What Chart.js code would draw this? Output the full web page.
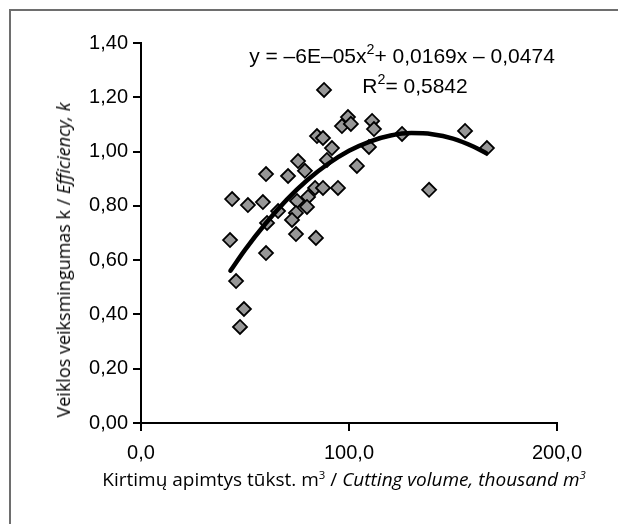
<!DOCTYPE html>
<html>
<head>
<meta charset="utf-8">
<script src="https://cdn.jsdelivr.net/npm/chart.js@4/dist/chart.umd.min.js"></script>
<style>
  html, body { margin:0; padding:0; background:#fff; }
  #wrap { position:relative; width:618px; height:524px; overflow:hidden; background:#fff; }
  #frame { position:absolute; left:9px; top:9px; width:800px; height:800px;
           border-left:2px solid #6e6e6e; border-top:2px solid #6e6e6e; }
  canvas { position:absolute; left:0; top:0; }
  .t { position:absolute; white-space:nowrap; color:#000; line-height:1; }
  #eq, #r2 { font-family:"Liberation Sans", Arial, sans-serif; font-size:21px; transform:translateX(-50%); }
  #eq { left:402px; top:45px; }
  #r2 { left:415px; top:75px; }
  #eq sup, #r2 sup { font-size:0.68em; vertical-align:0.6em; line-height:0; }
  #xt, #yt { font-family:"Open Sans", "Noto Sans", sans-serif; }
  #xt { font-size:19px; left:344px; top:470px; transform:translateX(-50%); }
  #yt { font-size:18px; left:63px; top:260px; transform:translate(-50%,-50%) rotate(-90deg); }
  #xt sup, #yt sup { font-size:0.6em; vertical-align:0.6em; line-height:0; }
</style>
</head>
<body>
<div id="wrap">
  <div id="frame"></div>
  <canvas id="c" width="618" height="524"></canvas>
  <div class="t" id="eq">y = –6E–05x<sup>2</sup>+ 0,0169x – 0,0474</div>
  <div class="t" id="r2">R<sup>2</sup>= 0,5842</div>
  <div class="t" id="xt">Kirtimų apimtys tūkst. m<sup>3</sup> / <i>Cutting volume, thousand m<sup>3</sup></i></div>
  <div class="t" id="yt">Veiklos veiksmingumas k / <i>Efficiency, k</i></div>
</div>
<script>
// Observed data points (cutting volume, efficiency)
const xVals = [43.8, 51.4, 58.6, 60.1, 70.7, 75.5, 78.8, 84.6, 87.5, 88.0,
               91.8, 89.4, 96.6, 99.5, 100.9, 103.8, 109.6, 111.1, 112.0, 125.5,
               155.8, 166.3, 138.5, 83.7, 87.5, 94.7, 75.0, 80.3, 79.8, 65.9,
               74.5, 72.6, 60.6, 74.5, 84.1, 42.8, 60.1, 45.7, 49.5, 47.6];
const yVals = [0.825, 0.803, 0.814, 0.917, 0.910, 0.965, 0.929, 1.057, 1.050, 1.227,
               1.013, 0.969, 1.094, 1.127, 1.102, 0.947, 1.017, 1.113, 1.083, 1.065,
               1.076, 1.013, 0.859, 0.866, 0.866, 0.866, 0.818, 0.833, 0.796, 0.781,
               0.774, 0.748, 0.737, 0.696, 0.682, 0.674, 0.626, 0.523, 0.420, 0.354];
// Trend curve
const trendX = [43, 50, 60, 70, 80, 90, 100, 110, 120, 130, 140, 150, 160, 166];
const trendY = [0.561, 0.638, 0.736, 0.822, 0.895, 0.955, 1.003, 1.037, 1.059, 1.068, 1.064, 1.048, 1.018, 0.994];
// Axis ticks
const xTickValues = [0, 100, 200];
const xTickLabels = ['0,0', '100,0', '200,0'];
const yTickLabels = ['0,00', '0,20', '0,40', '0,60', '0,80', '1,00', '1,20', '1,40'];

const points = xVals.map((x, i) => ({x: x, y: yVals[i]}));
const trend = trendX.map((x, i) => ({x: x, y: trendY[i]}));

const tickFont = {family: '"Liberation Sans", Arial, sans-serif', size: 20};

new Chart(document.getElementById('c'), {
  type: 'scatter',
  data: {
    datasets: [
      {
        type: 'line',
        data: trend,
        borderColor: '#000',
        borderWidth: 4.5,
        pointRadius: 0,
        fill: false,
        tension: 0.4,
        cubicInterpolationMode: 'monotone',
        borderCapStyle: 'round'
      },
      {
        data: points,
        pointStyle: 'rectRot',
        pointRadius: 7,
        pointBackgroundColor: '#979797',
        pointBorderColor: '#000',
        pointBorderWidth: 1.8
      }
    ]
  },
  options: {
    responsive: false,
    animation: false,
    events: [],
    layout: { padding: { left: 0, top: 43, right: 61, bottom: 0 } },
    plugins: { legend: { display: false }, tooltip: { enabled: false } },
    scales: {
      x: {
        type: 'linear',
        min: 0, max: 200,
        afterFit: s => { s.height = 101; },
        afterBuildTicks: s => { s.ticks = xTickValues.map(v => ({value: v})); },
        ticks: {
          color: '#000', font: tickFont, padding: 10, maxRotation: 0,
          callback: (v) => xTickLabels[xTickValues.indexOf(v)]
        },
        grid: { drawOnChartArea: false, drawTicks: true, tickLength: 8, color: '#000', lineWidth: 2 },
        border: { display: true, color: '#000', width: 2 }
      },
      y: {
        type: 'linear',
        min: 0, max: 1.4,
        afterFit: s => { s.width = 141; },
        ticks: {
          stepSize: 0.2, color: '#000', font: tickFont, padding: 5,
          callback: (v, i) => yTickLabels[i]
        },
        grid: { drawOnChartArea: false, drawTicks: true, tickLength: 8, color: '#000', lineWidth: 2 },
        border: { display: true, color: '#000', width: 2 }
      }
    }
  }
});
</script>
</body>
</html>
